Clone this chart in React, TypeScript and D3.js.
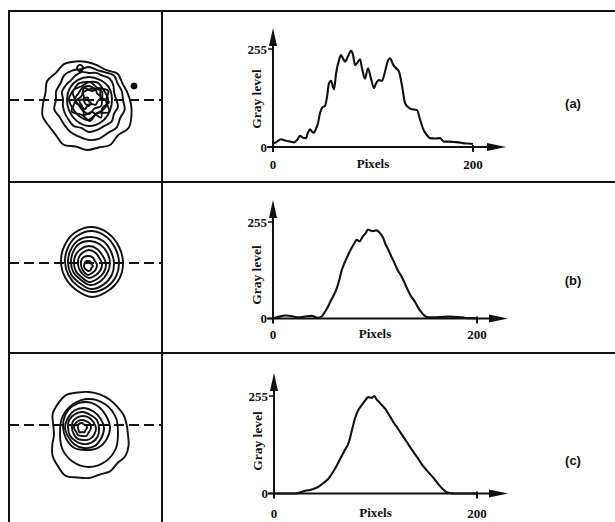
import * as d3 from "d3";

// profile along the dashed line: pixel index vs gray level
const pixelsA = [0, 4, 8, 12, 16, 21, 24, 27, 30, 33, 35, 37, 39, 41, 43, 45, 47, 49, 52, 54, 56, 58, 61, 63, 66, 68, 70, 72, 75, 78, 80, 82, 84, 87, 89, 92, 95, 98, 101, 103, 106, 109, 112, 115, 117, 120, 123, 126, 129, 132, 135, 138, 142, 144, 147, 150, 153, 157, 162, 167, 171, 176, 181, 186, 190, 195, 200];
const grayA = [8, 14, 20, 17, 15, 12, 18, 29, 24, 23, 38, 46, 40, 37, 48, 62, 88, 102, 107, 130, 166, 172, 150, 190, 226, 239, 230, 222, 236, 250, 240, 213, 218, 228, 205, 178, 205, 178, 153, 165, 174, 172, 196, 225, 231, 215, 205, 196, 160, 115, 104, 99, 97, 96, 72, 48, 34, 23, 22, 23, 14, 14, 13, 12, 10, 9, 8];

const pixelsB = [0, 6, 13, 19, 25, 31, 38, 44, 48, 51, 54, 57, 60, 62, 65, 67, 70, 73, 77, 80, 82, 85, 88, 91, 93, 96, 98, 101, 103, 106, 108, 110, 113, 116, 119, 122, 126, 129, 132, 135, 139, 142, 145, 148, 152, 158, 165, 172, 180, 186, 191, 196, 200];
const grayB = [0, 5, 8, 6, 3, 5, 7, 2, 6, 18, 32, 49, 64, 76, 102, 124, 146, 164, 186, 200, 208, 204, 217, 226, 235, 232, 231, 233, 231, 222, 213, 198, 182, 164, 147, 129, 111, 94, 76, 60, 45, 30, 18, 9, 3, 3, 4, 5, 4, 3, 1, 1, 0];

const pixelsC = [0, 10, 21, 26, 31, 38, 44, 49, 54, 59, 64, 69, 74, 77, 80, 83, 87, 90, 93, 96, 99, 101, 103, 106, 110, 114, 118, 122, 126, 131, 136, 141, 146, 151, 156, 160, 164, 167, 170, 174, 178, 185, 192, 200];
const grayC = [0, 0, 0, 3, 7, 11, 18, 28, 40, 60, 84, 110, 136, 168, 198, 218, 233, 244, 252, 250, 255, 246, 241, 232, 220, 203, 185, 170, 154, 134, 114, 95, 75, 59, 44, 31, 18, 10, 3, 1, 0, 0, 0, 0];

// iso-gray contours of the spot images: centre and radii (from 12 o'clock, clockwise)
const ringCentersA = [[78, 93], [80, 89], [80, 88], [80, 88], [79, 88], [80, 88], [82, 86], [76, 92], [81, 90], [83, 91], [71, 57], [125, 75]];
const ringRadiiA = [
  [42, 40, 39, 43, 41, 42, 44, 46, 48, 44, 47, 45, 46, 44, 47, 44, 44, 46, 44, 43, 46, 44, 46, 44],
  [33, 31, 32, 35, 33, 34, 34, 37, 36, 39, 38, 40, 40, 38, 37, 35, 34, 36, 33, 34, 33, 35, 34, 32],
  [26, 27, 27, 29, 28, 26, 27, 30, 29, 32, 31, 32, 33, 30, 31, 29, 28, 27, 26, 28, 27, 26, 27, 28],
  [22, 22, 23, 23, 24, 26, 27, 25, 23, 22, 22, 22],
  [17, 19, 18, 20, 19, 17, 21, 19, 18, 19, 17, 18],
  [13, 12, 15, 13, 14, 11, 15, 13, 12, 14, 12, 13],
  [8, 9, 7, 10, 8, 9, 7, 9, 8, 7, 9, 8],
  [5, 6, 4, 6, 5, 4, 6, 5, 4, 5, 6, 4],
  [19, 15, 21, 16, 22, 14, 20, 16, 21, 15, 20, 17],
  [11, 16, 10, 17, 12, 18, 10, 15, 11, 17, 12, 16],
  [3, 3, 3, 3, 3, 3, 3, 3, 3, 3, 3, 3],
  [2.5, 2.5, 2.5, 2.5, 2.5, 2.5, 2.5, 2.5, 2.5, 2.5, 2.5, 2.5],
];

const ringCentersB = [[83, 80], [83, 80], [82, 81], [81, 81], [80, 82], [80, 82], [79, 83], [79, 84]];
const ringRadiiB = [
  [35, 33, 31, 31, 32, 33, 35, 32, 31, 31, 32, 34],
  [31, 29, 27, 27, 28, 29, 30, 28, 27, 27, 28, 30],
  [26, 25, 23, 23, 24, 25, 26, 23, 23, 23, 24, 26],
  [22, 21, 20, 20, 20, 21, 22, 19, 19, 19, 20, 22],
  [18, 17, 16, 17, 17, 17, 18, 15, 15, 15, 16, 17],
  [14, 13, 12, 13, 13, 13, 14, 12, 11, 11, 12, 13],
  [9, 9, 8, 9, 9, 9, 10, 8, 7, 7, 8, 9],
  [5, 5, 4, 5, 4, 5, 5, 4, 4, 4, 4, 5],
];

const ringCentersC = [[80, 82], [80, 80], [77, 74], [75, 75], [74, 75], [74, 75], [73, 75], [73, 75]];
const ringRadiiC = [
  [43, 42, 41, 40, 40, 39, 39, 41, 42, 40, 42, 41, 43, 44, 47, 44, 42, 38, 35, 37, 42, 44, 46, 44],
  [34, 33, 31, 29, 31, 33, 34, 33, 31, 29, 31, 33],
  [25, 24, 23, 24, 24, 24, 23, 24, 23, 23, 24, 25],
  [20, 19, 19, 20, 20, 21, 20, 19, 18, 19, 19, 20],
  [16, 15, 16, 16, 17, 17, 16, 15, 15, 15, 16, 16],
  [12, 12, 12, 13, 13, 13, 12, 12, 11, 11, 12, 12],
  [8, 8, 9, 9, 8, 9, 8, 8, 7, 8, 8, 8],
  [5, 4, 5, 5, 4, 5, 4, 5, 4, 4, 5, 5],
];

const panelLabels = ["(a)", "(b)", "(c)"];
const xTicks = [0, 200];
const yTicks = [0, 255];

const W = 615;
const H = 522;
const LEFT = 9;
const DIVIDER = 162;
const ROW_TOPS = [11, 182, 353];

const serif = "'Liberation Serif', 'Times New Roman', serif";
const sans = "'Liberation Sans', Arial, sans-serif";

const panels = [
  { pixels: pixelsA, gray: grayA, centers: ringCentersA, radii: ringRadiiA, x0: 273, x200: 473, y0: 147, y255: 49, yTip: 28, xTip: 506, dashY: 100, labelY: 103, textY: 169, grayY: 99 },
  { pixels: pixelsB, gray: grayB, centers: ringCentersB, radii: ringRadiiB, x0: 273, x200: 477, y0: 318.5, y255: 222, yTip: 200, xTip: 508, dashY: 263, labelY: 280, textY: 339, grayY: 275 },
  { pixels: pixelsC, gray: grayC, centers: ringCentersC, radii: ringRadiiC, x0: 274, x200: 477, y0: 493.5, y255: 396, yTip: 373, xTip: 508, dashY: 425, labelY: 460, textY: 518, grayY: 441 },
];

const ringLine = (r: number[]) =>
  d3
    .lineRadial<number>()
    .angle((_, i) => (i * 2 * Math.PI) / r.length)
    .radius((v) => v)
    .curve(d3.curveCatmullRomClosed.alpha(0.5))(r);

function Panel({ p, i }: { p: (typeof panels)[number]; i: number }) {
  const top = ROW_TOPS[i];
  // image-space scale for the spot picture
  const imgX = d3.scaleLinear().domain([0, 153]).range([LEFT, LEFT + 153]);
  const imgY = d3.scaleLinear().domain([0, 171]).range([top, top + 171]);

  const x = d3.scaleLinear().domain([0, 200]).range([p.x0, p.x200]);
  const y = d3.scaleLinear().domain([0, 255]).range([p.y0, p.y255]);

  const line = d3
    .line<number>()
    .x((_, k) => x(p.pixels[k]))
    .y((v) => y(v))
    .curve(d3.curveMonotoneX);

  return (
    <g>
      {/* spot image */}
      <line
        x1={LEFT}
        x2={DIVIDER}
        y1={p.dashY}
        y2={p.dashY}
        stroke="#111"
        strokeWidth={2}
        strokeDasharray="10,5"
      />
      {p.radii.map((r, k) => (
        <path
          key={k}
          d={ringLine(r) || ""}
          transform={`translate(${imgX(p.centers[k][0])},${imgY(p.centers[k][1])})`}
          fill={r[0] <= 2.5 ? "#111" : "none"}
          stroke="#111"
          strokeWidth={1.9}
        />
      ))}

      {/* profile axes */}
      <line x1={x(0)} x2={x(0)} y1={y(0) + 5} y2={p.yTip + 12} stroke="#111" strokeWidth={2} />
      <polygon
        points={`${x(0)},${p.yTip} ${x(0) - 4},${p.yTip + 18} ${x(0) + 4},${p.yTip + 18}`}
        fill="#111"
      />
      <line x1={x(0) - 6} x2={p.xTip - 14} y1={y(0)} y2={y(0)} stroke="#111" strokeWidth={2} />
      <polygon
        points={`${p.xTip},${y(0)} ${p.xTip - 19},${y(0) - 4} ${p.xTip - 19},${y(0) + 4}`}
        fill="#111"
      />
      <line x1={x(200)} x2={x(200)} y1={y(0) - 2} y2={y(0) + 5} stroke="#111" strokeWidth={2} />
      {yTicks.map((t) => (
        <g key={t}>
          <line x1={x(0) - 5} x2={x(0)} y1={y(t)} y2={y(t)} stroke="#111" strokeWidth={1.5} />
          <text
            x={x(0) - 6}
            y={y(t)}
            dy="0.35em"
            textAnchor="end"
            fontFamily={serif}
            fontWeight="bold"
            fontSize={13}
            fill="#111"
          >
            {t}
          </text>
        </g>
      ))}
      {xTicks.map((t) => (
        <text
          key={t}
          x={x(t)}
          y={p.textY}
          textAnchor="middle"
          fontFamily={serif}
          fontWeight="bold"
          fontSize={13}
          fill="#111"
        >
          {t}
        </text>
      ))}
      <text
        x={(x(0) + x(200)) / 2}
        y={p.textY - 1}
        textAnchor="middle"
        fontFamily={serif}
        fontWeight="bold"
        fontSize={13}
        fill="#111"
      >
        Pixels
      </text>
      <text
        transform={`translate(${x(0) - 17},${p.grayY}) rotate(-90)`}
        textAnchor="middle"
        dy="0.35em"
        fontFamily={serif}
        fontWeight="bold"
        fontSize={13.5}
        fill="#111"
      >
        Gray level
      </text>

      <path d={line(p.gray) || ""} fill="none" stroke="#111" strokeWidth={2.1} />

      <text
        x={573}
        y={p.labelY}
        dy="0.35em"
        textAnchor="middle"
        fontFamily={sans}
        fontWeight="bold"
        fontSize={13}
        fill="#111"
      >
        {panelLabels[i]}
      </text>
    </g>
  );
}

export default function App() {
  return (
    <svg
      width={W}
      height={H}
      style={{ position: "absolute", left: 0, top: 0, background: "#fff" }}
    >
      <rect width={W} height={H} fill="#fff" />
      {/* frame */}
      {ROW_TOPS.map((t) => (
        <line key={t} x1={LEFT - 1} x2={W} y1={t} y2={t} stroke="#111" strokeWidth={2} />
      ))}
      <line x1={LEFT} x2={LEFT} y1={ROW_TOPS[0]} y2={H} stroke="#111" strokeWidth={2} />
      <line x1={DIVIDER} x2={DIVIDER} y1={ROW_TOPS[0]} y2={H} stroke="#111" strokeWidth={2} />
      {panels.map((p, i) => (
        <Panel key={i} p={p} i={i} />
      ))}
    </svg>
  );
}
